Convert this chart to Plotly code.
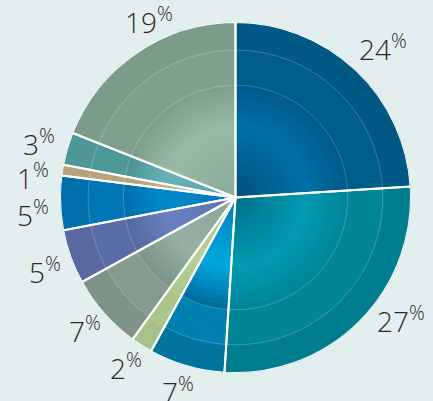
import numpy as np
import plotly.graph_objects as go

# Data (clockwise from 12 o'clock)
labels = ["24", "27", "7", "2", "7", "5", "5", "1", "3", "19"]
values = [24, 27, 7, 2, 7, 5, 5, 1, 3, 19]

# Style: per-slice colours (outer ring, middle ring, inner edge, highlight, centre)
outer_c = ["#005884", "#007d8e", "#00739f", "#a6c28a", "#7f9488", "#5868a0", "#0070ad", "#b5a27a", "#4f9696", "#7c9c8a"]
mid_c   = ["#005c88", "#008596", "#0080b0", "#aac68c", "#869a8e", "#5a6ca6", "#0076b4", "#b8a47c", "#4e9898", "#80a08e"]
edge_c  = ["#00598a", "#008395", "#00689a", "#aac68c", "#7c9488", "#56689f", "#006fac", "#b8a47c", "#4c9494", "#7e9e8a"]
hi_c    = ["#0070a6", "#009bb2", "#00a8de", "#b4d096", "#98b0a4", "#6a80c0", "#008acc", "#c0ac84", "#66b4b8", "#98baa4"]
ctr_c   = ["#00507c", "#00708a", "#0080b8", "#a8c48c", "#8aa49a", "#5c70ae", "#0078b8", "#b8a47c", "#56a2a6", "#8aac98"]
# label placement nudges (style)
label_r = [1.20, 1.17, 1.15, 1.15, 1.14, 1.16, 1.16, 1.16, 1.16, 1.12]
label_dtheta = [1.2, -8.5, 0.4, 0.5, 0.1, -1.2, -2.7, -3.0, -0.6, 8.2]

vals = np.array(values, dtype=float)
total = vals.sum()
start = np.concatenate([[0], np.cumsum(vals)[:-1]])
theta_mid = (start + vals / 2) / total * 360
widths = vals / total * 360


def hex2rgb(h):
    h = h.lstrip("#")
    return [int(h[i:i + 2], 16) for i in (0, 2, 4)]


def mix(a, b, t):
    ra, rb = hex2rgb(a), hex2rgb(b)
    return "rgb(%d,%d,%d)" % tuple(round(x + (y - x) * t) for x, y in zip(ra, rb))


fig = go.Figure()


def add_wedges(radius, colors, line=None):
    fig.add_trace(go.Barpolar(
        r=[radius] * len(values), theta=theta_mid, width=widths,
        marker=dict(color=colors, line=line or dict(width=0)),
        hoverinfo="skip", showlegend=False,
    ))


faint = dict(color="rgba(255,255,255,0.22)", width=1)
add_wedges(1.0, outer_c)
add_wedges(0.84, mid_c, faint)
n_steps = 24
for i in range(n_steps):
    f = 0.64 * (1 - i / n_steps)
    r = f - 0.64 / n_steps / 2
    if r >= 0.40:
        t = (0.64 - r) / 0.24
        cols = [mix(e, h, t) for e, h in zip(edge_c, hi_c)]
    else:
        t = (0.40 - r) / 0.40
        cols = [mix(h, c, t) for h, c in zip(hi_c, ctr_c)]
    add_wedges(f, cols, faint if i == 0 else None)

# white separators and rim
add_wedges(1.0, ["rgba(0,0,0,0)"] * len(values), dict(color="white", width=2))

# labels placed around the pie (paper coords of the square plot area)
ang = np.deg2rad(theta_mid + np.array(label_dtheta))
lx = 0.5 + 0.5 * np.array(label_r) * np.sin(ang)
ly = 0.5 + 0.5 * np.array(label_r) * np.cos(ang)
for txt, x, y in zip(labels, lx, ly):
    fig.add_annotation(
        x=x, y=y, xref="paper", yref="paper", xanchor="center", yanchor="middle",
        text=txt + "<sup>%</sup>", showarrow=False,
        font=dict(family="Open Sans", size=28, color="#2a2a2a", weight=300),
    )

fig.update_layout(
    width=433, height=401,
    margin=dict(l=60, r=22, t=22, b=28),
    paper_bgcolor="#e3eeee",
    polar=dict(
        domain=dict(x=[0, 1], y=[0, 1]),
        bgcolor="rgba(0,0,0,0)",
        barmode="overlay", bargap=0, hole=0,
        radialaxis=dict(range=[0, 1], visible=False),
        angularaxis=dict(visible=False, rotation=90, direction="clockwise"),
    ),
)

fig.write_html("out.html", config={"displayModeBar": False},
               post_script="document.body.style.margin='0px';")
